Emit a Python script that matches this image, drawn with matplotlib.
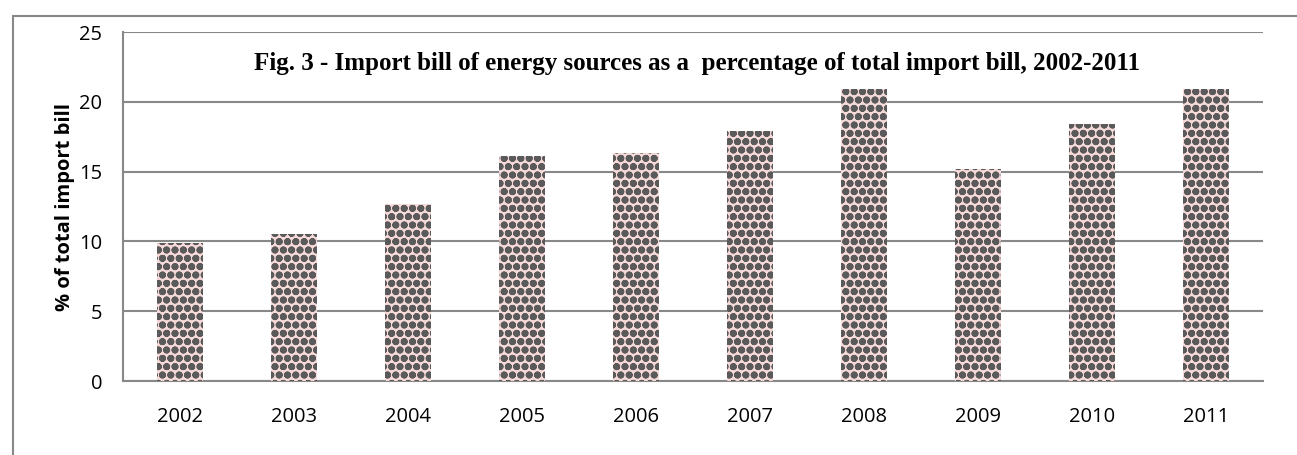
import matplotlib.pyplot as plt
from matplotlib.patches import Rectangle

# Import bill of energy sources (% of total import bill)
years = ['2002', '2003', '2004', '2005', '2006', '2007', '2008', '2009', '2010', '2011']
values = [9.9, 10.5, 12.7, 16.1, 16.3, 17.9, 20.9, 15.2, 18.4, 20.9]
y_ticks = [0, 5, 10, 15, 20, 25]

plt.rcParams['hatch.linewidth'] = 2.6
plt.rcParams['hatch.color'] = '#5a5a5a'

fig = plt.figure(figsize=(12.97, 4.55), dpi=100)
ax = fig.add_axes([0.0948, 0.1626, 0.879, 0.767])

# outer chart border
fig.patches.append(Rectangle((13 / 1297, -0.01), 1.05, 1 - 16 / 455 + 0.01,
                             transform=fig.transFigure, fill=False,
                             edgecolor='#888888', linewidth=1.5))

x = range(len(years))
ax.bar(x, values, width=0.4, color='#f6dada', hatch='oo', edgecolor='#5a5a5a',
       linewidth=0, zorder=3)

ax.set_ylim(0, 25)
ax.set_xlim(-0.5, len(years) - 0.5)
ax.set_yticks(y_ticks)
ax.set_xticks(list(x))
ax.set_xticklabels(years)
ax.tick_params(length=0, labelsize=14.5)
ax.tick_params(axis='x', pad=19)
ax.tick_params(axis='y', pad=15)
for lbl in ax.get_xticklabels() + ax.get_yticklabels():
    lbl.set_fontfamily('Open Sans')

ax.grid(axis='y', color='#888888', linewidth=1.5, zorder=0)
for s in ['top', 'right']:
    ax.spines[s].set_visible(False)
ax.spines['left'].set_color('#888888')
ax.spines['left'].set_linewidth(1.5)
ax.spines['bottom'].set_color('#888888')
ax.spines['bottom'].set_linewidth(1.5)

ax.set_ylabel('% of total import bill', fontsize=14.5, fontweight='bold',
              fontfamily='Open Sans', labelpad=3)

ax.text(0.5035, 0.911,
        'Fig. 3 - Import bill of energy sources as a  percentage of total import bill, 2002-2011',
        transform=ax.transAxes, ha='center', va='center', fontsize=18,
        fontweight='bold', fontfamily='Liberation Serif', zorder=5)

plt.savefig('out.png', dpi=100)
